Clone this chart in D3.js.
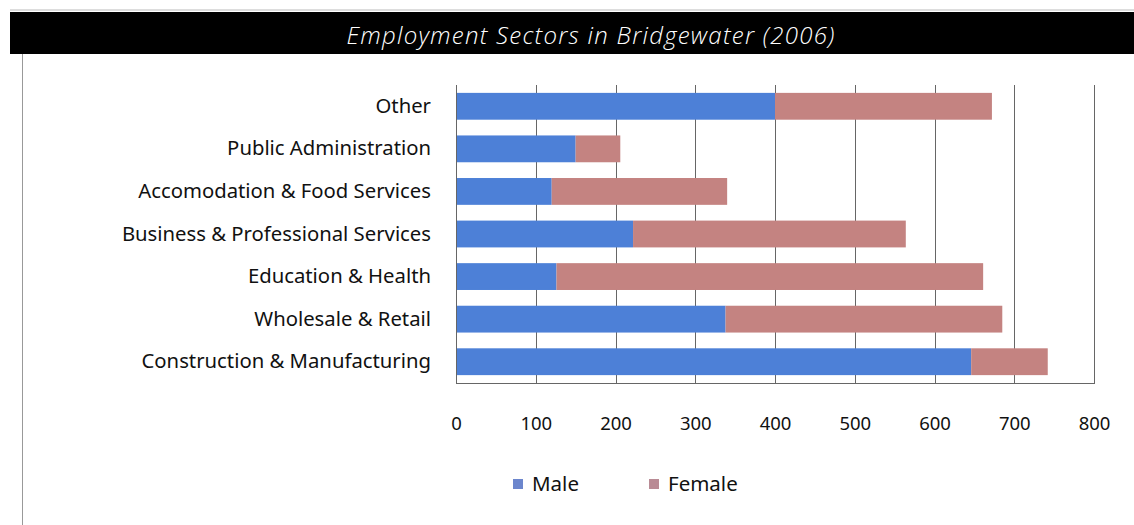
<!DOCTYPE html>
<html>
<head>
<meta charset="utf-8">
<script src="https://cdn.jsdelivr.net/npm/d3@7"></script>
<style>
  body { margin: 0; background: #fff; }
  svg { display: block; }
</style>
</head>
<body>
<div id="chart"></div>
<script>
// chart data
var sectors = ["Other", "Public Administration", "Accomodation & Food Services",
  "Business & Professional Services", "Education & Health", "Wholesale & Retail",
  "Construction & Manufacturing"];
var male = [400, 150, 120, 222, 126, 338, 646];
var female = [272, 56, 220, 342, 535, 347, 96];
var seriesNames = ["Male", "Female"];
var xTicks = [0, 100, 200, 300, 400, 500, 600, 700, 800];

var svgWidth = 1134, svgHeight = 525;
var margin = {top: 85, right: 40, bottom: 142, left: 456};
var width = 1094 - margin.left;
var height = 383 - margin.top;

var colors = {Male: "#4d80d7", Female: "#c48381"};
var legendColors = {Male: "#6c86cd", Female: "#b98b95"};

var svg = d3.select("#chart").append("svg")
  .attr("width", svgWidth).attr("height", svgHeight);

// title bar
svg.append("rect").attr("x", 10).attr("y", 12).attr("width", 1124).attr("height", 42).attr("fill", "#000");
svg.append("line").attr("x1", 10).attr("x2", 1134).attr("y1", 10).attr("y2", 10).attr("stroke", "#bbb");
svg.append("text")
  .attr("x", 591).attr("y", 44)
  .attr("text-anchor", "middle")
  .attr("fill", "#fff")
  .style("font-family", "'Open Sans', sans-serif")
  .style("font-style", "italic")
  .style("font-weight", 300)
  .style("font-size", "24px")
  .style("letter-spacing", "1.25px")
  .text("Employment Sectors in Bridgewater (2006)");
svg.append("line").attr("x1", 22.5).attr("x2", 22.5).attr("y1", 54).attr("y2", 525).attr("stroke", "#999");

var chartGroup = svg.append("g").attr("transform", `translate(${margin.left}, ${margin.top})`);

var x = d3.scaleLinear().domain([0, 800]).range([0, width]);
var y = d3.scaleBand().domain(sectors).range([0, height]).paddingInner(0.37).paddingOuter(0.185);

// gridlines
chartGroup.append("g").selectAll("line")
  .data(xTicks.slice(1))
  .enter().append("line")
  .attr("x1", d => Math.round(x(d)) + 0.5).attr("x2", d => Math.round(x(d)) + 0.5)
  .attr("y1", 0).attr("y2", height)
  .attr("stroke", "#666");

// stacked bars
var rows = sectors.map((s, i) => ({sector: s, Male: male[i], Female: female[i]}));
var stacked = d3.stack().keys(seriesNames)(rows);

chartGroup.append("g").selectAll("g")
  .data(stacked)
  .enter().append("g")
  .attr("fill", d => colors[d.key])
  .selectAll("rect")
  .data(d => d)
  .enter().append("rect")
  .attr("x", d => x(d[0]))
  .attr("width", d => x(d[1]) - x(d[0]))
  .attr("y", d => y(d.data.sector))
  .attr("height", y.bandwidth());

// axes
chartGroup.append("line").attr("x1", 0.5).attr("x2", 0.5).attr("y1", 0).attr("y2", height).attr("stroke", "#666");
chartGroup.append("line").attr("x1", 0).attr("x2", width + 1).attr("y1", height + 0.5).attr("y2", height + 0.5).attr("stroke", "#666");

var bottomAxis = d3.axisBottom(x).tickValues(xTicks).tickSize(0).tickPadding(34);
var xAxisG = chartGroup.append("g").attr("transform", `translate(0, ${height})`).call(bottomAxis);
xAxisG.select(".domain").remove();
xAxisG.selectAll("text")
  .style("font-family", "'Noto Sans', sans-serif")
  .style("font-size", "18.5px")
  .attr("fill", "#111");

var leftAxis = d3.axisLeft(y).tickSize(0).tickPadding(25);
var yAxisG = chartGroup.append("g").call(leftAxis);
yAxisG.select(".domain").remove();
yAxisG.selectAll("text")
  .style("font-family", "'Noto Sans', sans-serif")
  .style("font-size", "20.3px")
  .attr("fill", "#111");

// legend
var legendX = {Male: 513, Female: 649};
var legend = svg.append("g").selectAll("g")
  .data(seriesNames)
  .enter().append("g")
  .attr("transform", d => `translate(${legendX[d]}, 484)`);
legend.append("rect").attr("x", 0).attr("y", -5).attr("width", 10).attr("height", 10)
  .attr("fill", d => legendColors[d]);
legend.append("text").attr("x", 19).attr("y", 7)
  .style("font-family", "'Noto Sans', sans-serif")
  .style("font-size", "20.5px")
  .attr("fill", "#111")
  .text(d => d);
</script>
</body>
</html>
